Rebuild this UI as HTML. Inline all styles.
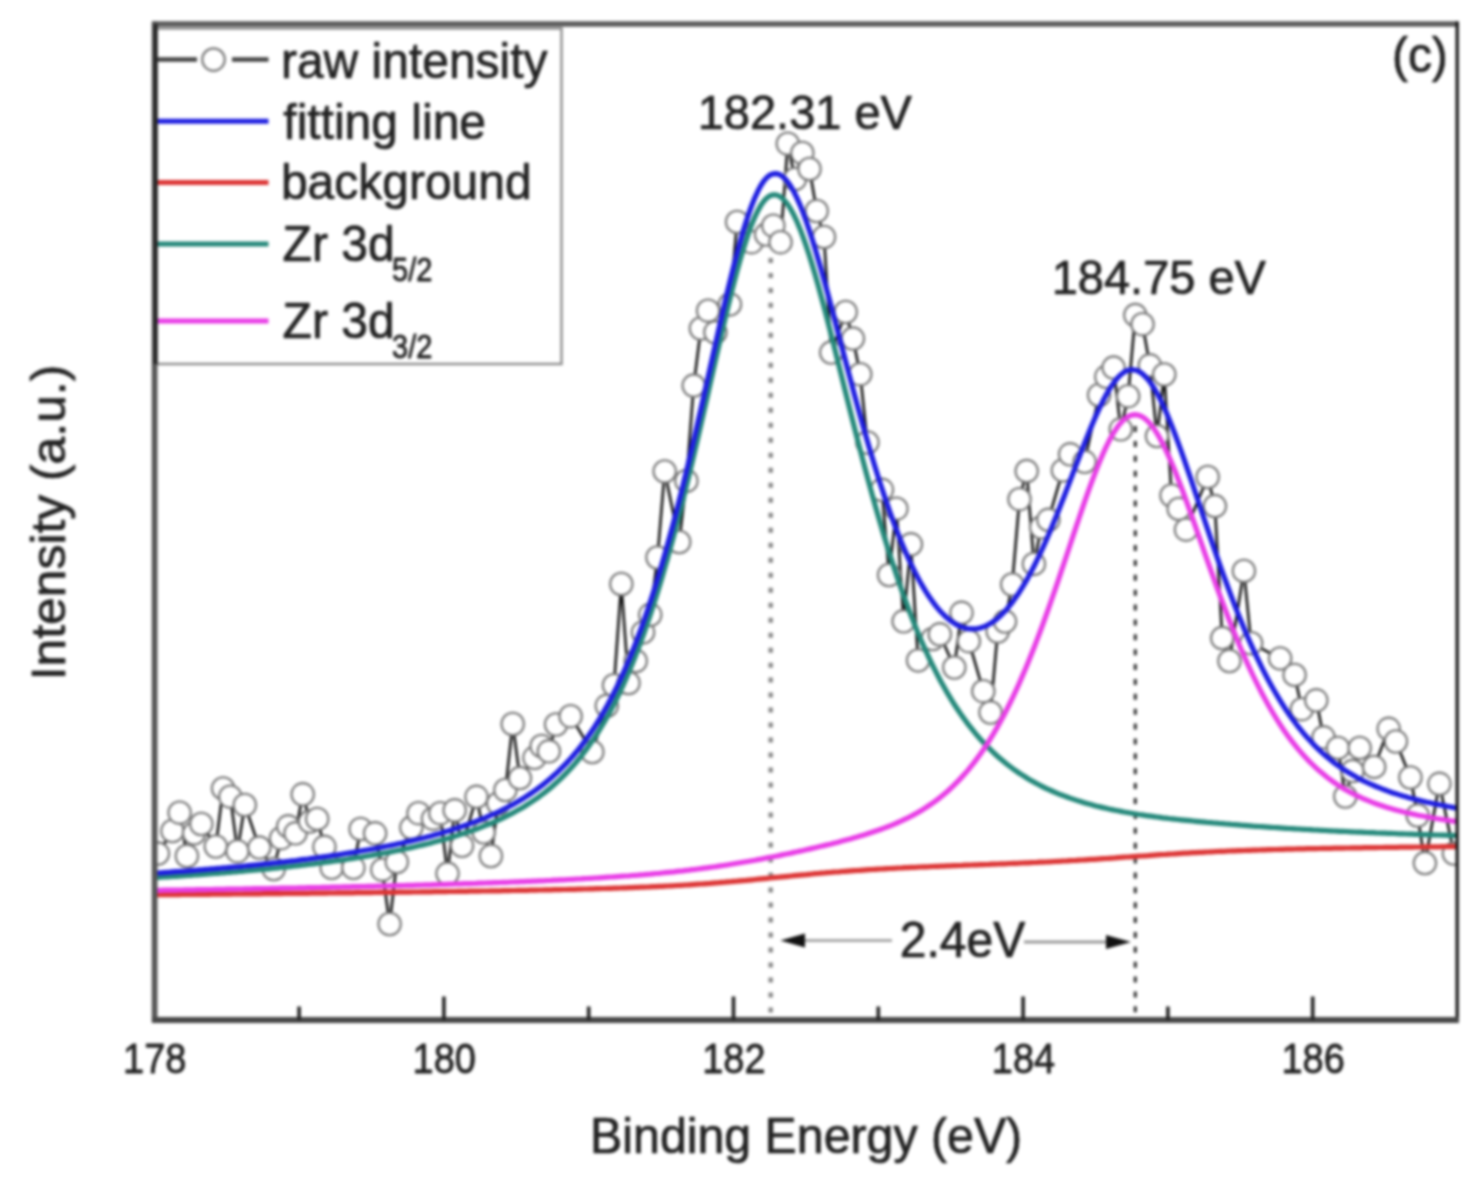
<!DOCTYPE html>
<html><head><meta charset="utf-8"><style>
html,body{margin:0;padding:0;background:#fff;}
svg{display:block;font-family:"Liberation Sans", sans-serif;}
text{stroke:#222;stroke-width:0.7px;stroke-linejoin:round;}
#w{filter:blur(1.5px);width:1477px;height:1182px;}
</style></head><body><div id="w">
<svg width="1477" height="1182" viewBox="0 0 1477 1182">
<rect x="0" y="0" width="1477" height="1182" fill="#fff"/>
<defs><clipPath id="pc"><rect x="155" y="24" width="1302" height="995"/></clipPath></defs>
<line x1="770.7" y1="257.9" x2="770.7" y2="1018" stroke="#8a8a8a" stroke-width="4.5" stroke-dasharray="5 9.99"/>
<line x1="1135.3" y1="426" x2="1135.3" y2="1018" stroke="#383838" stroke-width="3.2" stroke-dasharray="6 8.88"/>
<g clip-path="url(#pc)">
<polyline fill="none" stroke="#111" stroke-width="2.6" stroke-linejoin="round" points="157.9,853.6 172.4,831.0 179.6,812.7 186.9,856.0 194.1,833.4 201.3,824.0 215.8,846.5 223.1,788.4 230.3,796.7 237.5,851.2 244.8,805.0 259.3,847.6 273.7,869.0 281.0,838.2 288.2,826.3 295.5,833.3 302.7,794.3 309.9,821.6 317.2,818.9 324.4,846.8 331.7,867.8 353.4,867.8 360.6,829.0 375.1,833.3 382.3,869.7 389.6,924.0 396.8,862.0 411.3,827.6 418.5,813.2 433.0,818.7 440.3,813.2 447.5,873.6 454.7,810.3 462.0,845.8 476.5,796.8 483.7,832.3 490.9,856.0 498.2,803.5 505.4,790.0 512.7,724.0 519.9,778.1 534.4,757.8 541.6,746.0 548.9,751.3 556.1,724.5 570.6,716.2 592.3,752.0 606.8,705.8 614.0,685.2 621.3,584.0 628.5,683.0 635.7,661.0 643.0,632.4 650.2,614.8 657.5,557.5 664.7,471.4 679.2,542.0 686.4,480.9 693.7,385.6 700.9,328.5 708.1,310.7 715.4,332.3 729.9,304.4 737.1,221.9 751.6,242.2 766.1,234.6 773.3,225.7 780.5,242.2 787.8,143.7 795.0,179.0 802.3,153.0 809.5,169.0 816.7,211.0 824.0,237.0 831.2,352.6 845.7,312.0 852.9,338.6 860.2,374.2 867.4,442.5 881.9,489.8 889.1,575.0 896.4,508.7 903.6,621.3 910.9,544.3 918.1,660.4 932.6,639.0 939.8,634.3 954.3,667.5 961.5,612.8 968.8,641.2 983.3,691.2 990.5,712.5 997.7,631.5 1005.0,621.6 1012.2,584.5 1019.5,499.2 1026.7,471.1 1033.9,563.9 1041.2,527.3 1048.4,519.8 1062.9,470.4 1070.1,454.3 1084.6,461.8 1099.1,395.0 1106.3,376.8 1113.6,367.6 1120.8,429.3 1128.1,396.2 1135.3,315.1 1142.5,324.2 1149.8,365.3 1157.0,436.1 1164.3,374.5 1171.5,495.5 1178.7,508.9 1186.0,529.7 1207.7,477.0 1214.9,506.1 1222.2,638.1 1229.4,661.0 1243.9,570.9 1251.1,643.2 1280.1,658.4 1294.6,674.9 1301.8,709.2 1316.3,700.3 1323.5,737.3 1338.0,747.9 1345.3,796.5 1352.5,771.1 1359.7,747.9 1374.2,766.9 1388.7,728.8 1395.9,741.5 1410.4,777.5 1417.7,815.5 1424.9,863.1 1439.4,783.8 1453.9,853.6"/>
<circle cx="157.9" cy="853.6" r="11.2" fill="#fff" stroke="#747474" stroke-width="2.1"/>
<circle cx="172.4" cy="831.0" r="11.2" fill="#fff" stroke="#747474" stroke-width="2.1"/>
<circle cx="179.6" cy="812.7" r="11.2" fill="#fff" stroke="#747474" stroke-width="2.1"/>
<circle cx="186.9" cy="856.0" r="11.2" fill="#fff" stroke="#747474" stroke-width="2.1"/>
<circle cx="194.1" cy="833.4" r="11.2" fill="#fff" stroke="#747474" stroke-width="2.1"/>
<circle cx="201.3" cy="824.0" r="11.2" fill="#fff" stroke="#747474" stroke-width="2.1"/>
<circle cx="215.8" cy="846.5" r="11.2" fill="#fff" stroke="#747474" stroke-width="2.1"/>
<circle cx="223.1" cy="788.4" r="11.2" fill="#fff" stroke="#747474" stroke-width="2.1"/>
<circle cx="230.3" cy="796.7" r="11.2" fill="#fff" stroke="#747474" stroke-width="2.1"/>
<circle cx="237.5" cy="851.2" r="11.2" fill="#fff" stroke="#747474" stroke-width="2.1"/>
<circle cx="244.8" cy="805.0" r="11.2" fill="#fff" stroke="#747474" stroke-width="2.1"/>
<circle cx="259.3" cy="847.6" r="11.2" fill="#fff" stroke="#747474" stroke-width="2.1"/>
<circle cx="273.7" cy="869.0" r="11.2" fill="#fff" stroke="#747474" stroke-width="2.1"/>
<circle cx="281.0" cy="838.2" r="11.2" fill="#fff" stroke="#747474" stroke-width="2.1"/>
<circle cx="288.2" cy="826.3" r="11.2" fill="#fff" stroke="#747474" stroke-width="2.1"/>
<circle cx="295.5" cy="833.3" r="11.2" fill="#fff" stroke="#747474" stroke-width="2.1"/>
<circle cx="302.7" cy="794.3" r="11.2" fill="#fff" stroke="#747474" stroke-width="2.1"/>
<circle cx="309.9" cy="821.6" r="11.2" fill="#fff" stroke="#747474" stroke-width="2.1"/>
<circle cx="317.2" cy="818.9" r="11.2" fill="#fff" stroke="#747474" stroke-width="2.1"/>
<circle cx="324.4" cy="846.8" r="11.2" fill="#fff" stroke="#747474" stroke-width="2.1"/>
<circle cx="331.7" cy="867.8" r="11.2" fill="#fff" stroke="#747474" stroke-width="2.1"/>
<circle cx="353.4" cy="867.8" r="11.2" fill="#fff" stroke="#747474" stroke-width="2.1"/>
<circle cx="360.6" cy="829.0" r="11.2" fill="#fff" stroke="#747474" stroke-width="2.1"/>
<circle cx="375.1" cy="833.3" r="11.2" fill="#fff" stroke="#747474" stroke-width="2.1"/>
<circle cx="382.3" cy="869.7" r="11.2" fill="#fff" stroke="#747474" stroke-width="2.1"/>
<circle cx="389.6" cy="924.0" r="11.2" fill="#fff" stroke="#747474" stroke-width="2.1"/>
<circle cx="396.8" cy="862.0" r="11.2" fill="#fff" stroke="#747474" stroke-width="2.1"/>
<circle cx="411.3" cy="827.6" r="11.2" fill="#fff" stroke="#747474" stroke-width="2.1"/>
<circle cx="418.5" cy="813.2" r="11.2" fill="#fff" stroke="#747474" stroke-width="2.1"/>
<circle cx="433.0" cy="818.7" r="11.2" fill="#fff" stroke="#747474" stroke-width="2.1"/>
<circle cx="440.3" cy="813.2" r="11.2" fill="#fff" stroke="#747474" stroke-width="2.1"/>
<circle cx="447.5" cy="873.6" r="11.2" fill="#fff" stroke="#747474" stroke-width="2.1"/>
<circle cx="454.7" cy="810.3" r="11.2" fill="#fff" stroke="#747474" stroke-width="2.1"/>
<circle cx="462.0" cy="845.8" r="11.2" fill="#fff" stroke="#747474" stroke-width="2.1"/>
<circle cx="476.5" cy="796.8" r="11.2" fill="#fff" stroke="#747474" stroke-width="2.1"/>
<circle cx="483.7" cy="832.3" r="11.2" fill="#fff" stroke="#747474" stroke-width="2.1"/>
<circle cx="490.9" cy="856.0" r="11.2" fill="#fff" stroke="#747474" stroke-width="2.1"/>
<circle cx="498.2" cy="803.5" r="11.2" fill="#fff" stroke="#747474" stroke-width="2.1"/>
<circle cx="505.4" cy="790.0" r="11.2" fill="#fff" stroke="#747474" stroke-width="2.1"/>
<circle cx="512.7" cy="724.0" r="11.2" fill="#fff" stroke="#747474" stroke-width="2.1"/>
<circle cx="519.9" cy="778.1" r="11.2" fill="#fff" stroke="#747474" stroke-width="2.1"/>
<circle cx="534.4" cy="757.8" r="11.2" fill="#fff" stroke="#747474" stroke-width="2.1"/>
<circle cx="541.6" cy="746.0" r="11.2" fill="#fff" stroke="#747474" stroke-width="2.1"/>
<circle cx="548.9" cy="751.3" r="11.2" fill="#fff" stroke="#747474" stroke-width="2.1"/>
<circle cx="556.1" cy="724.5" r="11.2" fill="#fff" stroke="#747474" stroke-width="2.1"/>
<circle cx="570.6" cy="716.2" r="11.2" fill="#fff" stroke="#747474" stroke-width="2.1"/>
<circle cx="592.3" cy="752.0" r="11.2" fill="#fff" stroke="#747474" stroke-width="2.1"/>
<circle cx="606.8" cy="705.8" r="11.2" fill="#fff" stroke="#747474" stroke-width="2.1"/>
<circle cx="614.0" cy="685.2" r="11.2" fill="#fff" stroke="#747474" stroke-width="2.1"/>
<circle cx="621.3" cy="584.0" r="11.2" fill="#fff" stroke="#747474" stroke-width="2.1"/>
<circle cx="628.5" cy="683.0" r="11.2" fill="#fff" stroke="#747474" stroke-width="2.1"/>
<circle cx="635.7" cy="661.0" r="11.2" fill="#fff" stroke="#747474" stroke-width="2.1"/>
<circle cx="643.0" cy="632.4" r="11.2" fill="#fff" stroke="#747474" stroke-width="2.1"/>
<circle cx="650.2" cy="614.8" r="11.2" fill="#fff" stroke="#747474" stroke-width="2.1"/>
<circle cx="657.5" cy="557.5" r="11.2" fill="#fff" stroke="#747474" stroke-width="2.1"/>
<circle cx="664.7" cy="471.4" r="11.2" fill="#fff" stroke="#747474" stroke-width="2.1"/>
<circle cx="679.2" cy="542.0" r="11.2" fill="#fff" stroke="#747474" stroke-width="2.1"/>
<circle cx="686.4" cy="480.9" r="11.2" fill="#fff" stroke="#747474" stroke-width="2.1"/>
<circle cx="693.7" cy="385.6" r="11.2" fill="#fff" stroke="#747474" stroke-width="2.1"/>
<circle cx="700.9" cy="328.5" r="11.2" fill="#fff" stroke="#747474" stroke-width="2.1"/>
<circle cx="708.1" cy="310.7" r="11.2" fill="#fff" stroke="#747474" stroke-width="2.1"/>
<circle cx="715.4" cy="332.3" r="11.2" fill="#fff" stroke="#747474" stroke-width="2.1"/>
<circle cx="729.9" cy="304.4" r="11.2" fill="#fff" stroke="#747474" stroke-width="2.1"/>
<circle cx="737.1" cy="221.9" r="11.2" fill="#fff" stroke="#747474" stroke-width="2.1"/>
<circle cx="751.6" cy="242.2" r="11.2" fill="#fff" stroke="#747474" stroke-width="2.1"/>
<circle cx="766.1" cy="234.6" r="11.2" fill="#fff" stroke="#747474" stroke-width="2.1"/>
<circle cx="773.3" cy="225.7" r="11.2" fill="#fff" stroke="#747474" stroke-width="2.1"/>
<circle cx="780.5" cy="242.2" r="11.2" fill="#fff" stroke="#747474" stroke-width="2.1"/>
<circle cx="787.8" cy="143.7" r="11.2" fill="#fff" stroke="#747474" stroke-width="2.1"/>
<circle cx="795.0" cy="179.0" r="11.2" fill="#fff" stroke="#747474" stroke-width="2.1"/>
<circle cx="802.3" cy="153.0" r="11.2" fill="#fff" stroke="#747474" stroke-width="2.1"/>
<circle cx="809.5" cy="169.0" r="11.2" fill="#fff" stroke="#747474" stroke-width="2.1"/>
<circle cx="816.7" cy="211.0" r="11.2" fill="#fff" stroke="#747474" stroke-width="2.1"/>
<circle cx="824.0" cy="237.0" r="11.2" fill="#fff" stroke="#747474" stroke-width="2.1"/>
<circle cx="831.2" cy="352.6" r="11.2" fill="#fff" stroke="#747474" stroke-width="2.1"/>
<circle cx="845.7" cy="312.0" r="11.2" fill="#fff" stroke="#747474" stroke-width="2.1"/>
<circle cx="852.9" cy="338.6" r="11.2" fill="#fff" stroke="#747474" stroke-width="2.1"/>
<circle cx="860.2" cy="374.2" r="11.2" fill="#fff" stroke="#747474" stroke-width="2.1"/>
<circle cx="867.4" cy="442.5" r="11.2" fill="#fff" stroke="#747474" stroke-width="2.1"/>
<circle cx="881.9" cy="489.8" r="11.2" fill="#fff" stroke="#747474" stroke-width="2.1"/>
<circle cx="889.1" cy="575.0" r="11.2" fill="#fff" stroke="#747474" stroke-width="2.1"/>
<circle cx="896.4" cy="508.7" r="11.2" fill="#fff" stroke="#747474" stroke-width="2.1"/>
<circle cx="903.6" cy="621.3" r="11.2" fill="#fff" stroke="#747474" stroke-width="2.1"/>
<circle cx="910.9" cy="544.3" r="11.2" fill="#fff" stroke="#747474" stroke-width="2.1"/>
<circle cx="918.1" cy="660.4" r="11.2" fill="#fff" stroke="#747474" stroke-width="2.1"/>
<circle cx="932.6" cy="639.0" r="11.2" fill="#fff" stroke="#747474" stroke-width="2.1"/>
<circle cx="939.8" cy="634.3" r="11.2" fill="#fff" stroke="#747474" stroke-width="2.1"/>
<circle cx="954.3" cy="667.5" r="11.2" fill="#fff" stroke="#747474" stroke-width="2.1"/>
<circle cx="961.5" cy="612.8" r="11.2" fill="#fff" stroke="#747474" stroke-width="2.1"/>
<circle cx="968.8" cy="641.2" r="11.2" fill="#fff" stroke="#747474" stroke-width="2.1"/>
<circle cx="983.3" cy="691.2" r="11.2" fill="#fff" stroke="#747474" stroke-width="2.1"/>
<circle cx="990.5" cy="712.5" r="11.2" fill="#fff" stroke="#747474" stroke-width="2.1"/>
<circle cx="997.7" cy="631.5" r="11.2" fill="#fff" stroke="#747474" stroke-width="2.1"/>
<circle cx="1005.0" cy="621.6" r="11.2" fill="#fff" stroke="#747474" stroke-width="2.1"/>
<circle cx="1012.2" cy="584.5" r="11.2" fill="#fff" stroke="#747474" stroke-width="2.1"/>
<circle cx="1019.5" cy="499.2" r="11.2" fill="#fff" stroke="#747474" stroke-width="2.1"/>
<circle cx="1026.7" cy="471.1" r="11.2" fill="#fff" stroke="#747474" stroke-width="2.1"/>
<circle cx="1033.9" cy="563.9" r="11.2" fill="#fff" stroke="#747474" stroke-width="2.1"/>
<circle cx="1041.2" cy="527.3" r="11.2" fill="#fff" stroke="#747474" stroke-width="2.1"/>
<circle cx="1048.4" cy="519.8" r="11.2" fill="#fff" stroke="#747474" stroke-width="2.1"/>
<circle cx="1062.9" cy="470.4" r="11.2" fill="#fff" stroke="#747474" stroke-width="2.1"/>
<circle cx="1070.1" cy="454.3" r="11.2" fill="#fff" stroke="#747474" stroke-width="2.1"/>
<circle cx="1084.6" cy="461.8" r="11.2" fill="#fff" stroke="#747474" stroke-width="2.1"/>
<circle cx="1099.1" cy="395.0" r="11.2" fill="#fff" stroke="#747474" stroke-width="2.1"/>
<circle cx="1106.3" cy="376.8" r="11.2" fill="#fff" stroke="#747474" stroke-width="2.1"/>
<circle cx="1113.6" cy="367.6" r="11.2" fill="#fff" stroke="#747474" stroke-width="2.1"/>
<circle cx="1120.8" cy="429.3" r="11.2" fill="#fff" stroke="#747474" stroke-width="2.1"/>
<circle cx="1128.1" cy="396.2" r="11.2" fill="#fff" stroke="#747474" stroke-width="2.1"/>
<circle cx="1135.3" cy="315.1" r="11.2" fill="#fff" stroke="#747474" stroke-width="2.1"/>
<circle cx="1142.5" cy="324.2" r="11.2" fill="#fff" stroke="#747474" stroke-width="2.1"/>
<circle cx="1149.8" cy="365.3" r="11.2" fill="#fff" stroke="#747474" stroke-width="2.1"/>
<circle cx="1157.0" cy="436.1" r="11.2" fill="#fff" stroke="#747474" stroke-width="2.1"/>
<circle cx="1164.3" cy="374.5" r="11.2" fill="#fff" stroke="#747474" stroke-width="2.1"/>
<circle cx="1171.5" cy="495.5" r="11.2" fill="#fff" stroke="#747474" stroke-width="2.1"/>
<circle cx="1178.7" cy="508.9" r="11.2" fill="#fff" stroke="#747474" stroke-width="2.1"/>
<circle cx="1186.0" cy="529.7" r="11.2" fill="#fff" stroke="#747474" stroke-width="2.1"/>
<circle cx="1207.7" cy="477.0" r="11.2" fill="#fff" stroke="#747474" stroke-width="2.1"/>
<circle cx="1214.9" cy="506.1" r="11.2" fill="#fff" stroke="#747474" stroke-width="2.1"/>
<circle cx="1222.2" cy="638.1" r="11.2" fill="#fff" stroke="#747474" stroke-width="2.1"/>
<circle cx="1229.4" cy="661.0" r="11.2" fill="#fff" stroke="#747474" stroke-width="2.1"/>
<circle cx="1243.9" cy="570.9" r="11.2" fill="#fff" stroke="#747474" stroke-width="2.1"/>
<circle cx="1251.1" cy="643.2" r="11.2" fill="#fff" stroke="#747474" stroke-width="2.1"/>
<circle cx="1280.1" cy="658.4" r="11.2" fill="#fff" stroke="#747474" stroke-width="2.1"/>
<circle cx="1294.6" cy="674.9" r="11.2" fill="#fff" stroke="#747474" stroke-width="2.1"/>
<circle cx="1301.8" cy="709.2" r="11.2" fill="#fff" stroke="#747474" stroke-width="2.1"/>
<circle cx="1316.3" cy="700.3" r="11.2" fill="#fff" stroke="#747474" stroke-width="2.1"/>
<circle cx="1323.5" cy="737.3" r="11.2" fill="#fff" stroke="#747474" stroke-width="2.1"/>
<circle cx="1338.0" cy="747.9" r="11.2" fill="#fff" stroke="#747474" stroke-width="2.1"/>
<circle cx="1345.3" cy="796.5" r="11.2" fill="#fff" stroke="#747474" stroke-width="2.1"/>
<circle cx="1352.5" cy="771.1" r="11.2" fill="#fff" stroke="#747474" stroke-width="2.1"/>
<circle cx="1359.7" cy="747.9" r="11.2" fill="#fff" stroke="#747474" stroke-width="2.1"/>
<circle cx="1374.2" cy="766.9" r="11.2" fill="#fff" stroke="#747474" stroke-width="2.1"/>
<circle cx="1388.7" cy="728.8" r="11.2" fill="#fff" stroke="#747474" stroke-width="2.1"/>
<circle cx="1395.9" cy="741.5" r="11.2" fill="#fff" stroke="#747474" stroke-width="2.1"/>
<circle cx="1410.4" cy="777.5" r="11.2" fill="#fff" stroke="#747474" stroke-width="2.1"/>
<circle cx="1417.7" cy="815.5" r="11.2" fill="#fff" stroke="#747474" stroke-width="2.1"/>
<circle cx="1424.9" cy="863.1" r="11.2" fill="#fff" stroke="#747474" stroke-width="2.1"/>
<circle cx="1439.4" cy="783.8" r="11.2" fill="#fff" stroke="#747474" stroke-width="2.1"/>
<circle cx="1453.9" cy="853.6" r="11.2" fill="#fff" stroke="#747474" stroke-width="2.1"/>
<path d="M155.0 894.8 L158.0 894.7 L161.0 894.7 L164.0 894.7 L167.0 894.7 L170.0 894.6 L173.0 894.6 L176.0 894.6 L179.0 894.6 L182.0 894.5 L185.0 894.5 L188.0 894.5 L191.0 894.4 L194.0 894.4 L197.0 894.4 L200.0 894.4 L203.0 894.3 L206.0 894.3 L209.0 894.3 L212.0 894.2 L215.0 894.2 L218.0 894.2 L221.0 894.2 L224.0 894.1 L227.0 894.1 L230.0 894.1 L233.0 894.0 L236.0 894.0 L239.0 894.0 L242.0 894.0 L245.0 893.9 L248.0 893.9 L251.0 893.9 L254.0 893.8 L257.0 893.8 L260.0 893.8 L263.0 893.7 L266.0 893.7 L269.0 893.7 L272.0 893.6 L275.0 893.6 L278.0 893.6 L281.0 893.6 L284.0 893.5 L287.0 893.5 L290.0 893.5 L293.0 893.4 L296.0 893.4 L299.0 893.4 L302.0 893.3 L305.0 893.3 L308.0 893.3 L311.0 893.2 L314.0 893.2 L317.0 893.2 L320.0 893.1 L323.0 893.1 L326.0 893.1 L329.0 893.0 L332.0 893.0 L335.0 893.0 L338.0 892.9 L341.0 892.9 L344.0 892.9 L347.0 892.8 L350.0 892.8 L353.0 892.8 L356.0 892.7 L359.0 892.7 L362.0 892.7 L365.0 892.6 L368.0 892.6 L371.0 892.6 L374.0 892.5 L377.0 892.5 L380.0 892.4 L383.0 892.4 L386.0 892.4 L389.0 892.3 L392.0 892.3 L395.0 892.3 L398.0 892.2 L401.0 892.2 L404.0 892.1 L407.0 892.1 L410.0 892.1 L413.0 892.0 L416.0 892.0 L419.0 892.0 L422.0 891.9 L425.0 891.9 L428.0 891.8 L431.0 891.8 L434.0 891.7 L437.0 891.7 L440.0 891.7 L443.0 891.6 L446.0 891.6 L449.0 891.5 L452.0 891.5 L455.0 891.5 L458.0 891.4 L461.0 891.4 L464.0 891.3 L467.0 891.3 L470.0 891.2 L473.0 891.2 L476.0 891.1 L479.0 891.1 L482.0 891.0 L485.0 891.0 L488.0 891.0 L491.0 890.9 L494.0 890.9 L497.0 890.8 L500.0 890.8 L503.0 890.7 L506.0 890.7 L509.0 890.6 L512.0 890.5 L515.0 890.5 L518.0 890.4 L521.0 890.4 L524.0 890.3 L527.0 890.3 L530.0 890.2 L533.0 890.2 L536.0 890.1 L539.0 890.0 L542.0 890.0 L545.0 889.9 L548.0 889.9 L551.0 889.8 L554.0 889.7 L557.0 889.7 L560.0 889.6 L563.0 889.5 L566.0 889.5 L569.0 889.4 L572.0 889.3 L575.0 889.3 L578.0 889.2 L581.0 889.1 L584.0 889.0 L587.0 889.0 L590.0 888.9 L593.0 888.8 L596.0 888.7 L599.0 888.6 L602.0 888.5 L605.0 888.5 L608.0 888.4 L611.0 888.3 L614.0 888.2 L617.0 888.1 L620.0 888.0 L623.0 887.9 L626.0 887.8 L629.0 887.7 L632.0 887.6 L635.0 887.4 L638.0 887.3 L641.0 887.2 L644.0 887.1 L647.0 887.0 L650.0 886.8 L653.0 886.7 L656.0 886.6 L659.0 886.4 L662.0 886.3 L665.0 886.1 L668.0 886.0 L671.0 885.8 L674.0 885.7 L677.0 885.5 L680.0 885.3 L683.0 885.2 L686.0 885.0 L689.0 884.8 L692.0 884.6 L695.0 884.4 L698.0 884.2 L701.0 884.0 L704.0 883.8 L707.0 883.6 L710.0 883.4 L713.0 883.1 L716.0 882.9 L719.0 882.7 L722.0 882.4 L725.0 882.2 L728.0 881.9 L731.0 881.7 L734.0 881.4 L737.0 881.2 L740.0 880.9 L743.0 880.6 L746.0 880.4 L749.0 880.1 L752.0 879.8 L755.0 879.5 L758.0 879.2 L761.0 878.9 L764.0 878.6 L767.0 878.3 L770.0 878.0 L773.0 877.7 L776.0 877.4 L779.0 877.2 L782.0 876.9 L785.0 876.6 L788.0 876.3 L791.0 876.0 L794.0 875.7 L797.0 875.4 L800.0 875.1 L803.0 874.8 L806.0 874.6 L809.0 874.3 L812.0 874.0 L815.0 873.7 L818.0 873.5 L821.0 873.2 L824.0 873.0 L827.0 872.7 L830.0 872.5 L833.0 872.2 L836.0 872.0 L839.0 871.8 L842.0 871.5 L845.0 871.3 L848.0 871.1 L851.0 870.9 L854.0 870.7 L857.0 870.5 L860.0 870.3 L863.0 870.1 L866.0 869.9 L869.0 869.7 L872.0 869.5 L875.0 869.3 L878.0 869.1 L881.0 869.0 L884.0 868.8 L887.0 868.6 L890.0 868.5 L893.0 868.3 L896.0 868.2 L899.0 868.0 L902.0 867.9 L905.0 867.7 L908.0 867.6 L911.0 867.4 L914.0 867.3 L917.0 867.2 L920.0 867.0 L923.0 866.9 L926.0 866.8 L929.0 866.7 L932.0 866.5 L935.0 866.4 L938.0 866.3 L941.0 866.2 L944.0 866.1 L947.0 865.9 L950.0 865.8 L953.0 865.7 L956.0 865.6 L959.0 865.5 L962.0 865.4 L965.0 865.2 L968.0 865.1 L971.0 865.0 L974.0 864.9 L977.0 864.8 L980.0 864.7 L983.0 864.6 L986.0 864.5 L989.0 864.4 L992.0 864.2 L995.0 864.1 L998.0 864.0 L1001.0 863.9 L1004.0 863.8 L1007.0 863.7 L1010.0 863.5 L1013.0 863.4 L1016.0 863.3 L1019.0 863.2 L1022.0 863.0 L1025.0 862.9 L1028.0 862.8 L1031.0 862.6 L1034.0 862.5 L1037.0 862.4 L1040.0 862.2 L1043.0 862.1 L1046.0 862.0 L1049.0 861.8 L1052.0 861.7 L1055.0 861.5 L1058.0 861.3 L1061.0 861.2 L1064.0 861.0 L1067.0 860.9 L1070.0 860.7 L1073.0 860.5 L1076.0 860.4 L1079.0 860.2 L1082.0 860.0 L1085.0 859.8 L1088.0 859.6 L1091.0 859.4 L1094.0 859.3 L1097.0 859.1 L1100.0 858.9 L1103.0 858.7 L1106.0 858.5 L1109.0 858.3 L1112.0 858.1 L1115.0 857.9 L1118.0 857.6 L1121.0 857.4 L1124.0 857.2 L1127.0 857.0 L1130.0 856.8 L1133.0 856.6 L1136.0 856.4 L1139.0 856.2 L1142.0 856.0 L1145.0 855.8 L1148.0 855.6 L1151.0 855.3 L1154.0 855.1 L1157.0 854.9 L1160.0 854.7 L1163.0 854.5 L1166.0 854.4 L1169.0 854.2 L1172.0 854.0 L1175.0 853.8 L1178.0 853.6 L1181.0 853.4 L1184.0 853.2 L1187.0 853.1 L1190.0 852.9 L1193.0 852.7 L1196.0 852.6 L1199.0 852.4 L1202.0 852.3 L1205.0 852.1 L1208.0 852.0 L1211.0 851.8 L1214.0 851.7 L1217.0 851.5 L1220.0 851.4 L1223.0 851.3 L1226.0 851.2 L1229.0 851.0 L1232.0 850.9 L1235.0 850.8 L1238.0 850.7 L1241.0 850.6 L1244.0 850.5 L1247.0 850.4 L1250.0 850.3 L1253.0 850.2 L1256.0 850.1 L1259.0 850.0 L1262.0 849.9 L1265.0 849.8 L1268.0 849.7 L1271.0 849.6 L1274.0 849.5 L1277.0 849.5 L1280.0 849.4 L1283.0 849.3 L1286.0 849.2 L1289.0 849.1 L1292.0 849.1 L1295.0 849.0 L1298.0 848.9 L1301.0 848.9 L1304.0 848.8 L1307.0 848.7 L1310.0 848.7 L1313.0 848.6 L1316.0 848.6 L1319.0 848.5 L1322.0 848.4 L1325.0 848.4 L1328.0 848.3 L1331.0 848.3 L1334.0 848.2 L1337.0 848.2 L1340.0 848.1 L1343.0 848.1 L1346.0 848.0 L1349.0 848.0 L1352.0 847.9 L1355.0 847.9 L1358.0 847.8 L1361.0 847.8 L1364.0 847.7 L1367.0 847.7 L1370.0 847.7 L1373.0 847.6 L1376.0 847.6 L1379.0 847.5 L1382.0 847.5 L1385.0 847.4 L1388.0 847.4 L1391.0 847.4 L1394.0 847.3 L1397.0 847.3 L1400.0 847.2 L1403.0 847.2 L1406.0 847.2 L1409.0 847.1 L1412.0 847.1 L1415.0 847.0 L1418.0 847.0 L1421.0 847.0 L1424.0 846.9 L1427.0 846.9 L1430.0 846.9 L1433.0 846.8 L1436.0 846.8 L1439.0 846.8 L1442.0 846.7 L1445.0 846.7 L1448.0 846.6 L1451.0 846.6 L1454.0 846.6 L1457.0 846.5" fill="none" stroke="#dc3434" stroke-width="5.2" stroke-linejoin="round"/>
<path d="M155.0 877.6 L158.0 877.4 L161.0 877.2 L164.0 877.0 L167.0 876.8 L170.0 876.7 L173.0 876.5 L176.0 876.3 L179.0 876.1 L182.0 875.9 L185.0 875.7 L188.0 875.5 L191.0 875.3 L194.0 875.0 L197.0 874.8 L200.0 874.6 L203.0 874.4 L206.0 874.2 L209.0 873.9 L212.0 873.7 L215.0 873.5 L218.0 873.3 L221.0 873.0 L224.0 872.8 L227.0 872.5 L230.0 872.3 L233.0 872.0 L236.0 871.8 L239.0 871.5 L242.0 871.3 L245.0 871.0 L248.0 870.7 L251.0 870.5 L254.0 870.2 L257.0 869.9 L260.0 869.6 L263.0 869.4 L266.0 869.1 L269.0 868.8 L272.0 868.5 L275.0 868.2 L278.0 867.9 L281.0 867.5 L284.0 867.2 L287.0 866.9 L290.0 866.6 L293.0 866.2 L296.0 865.9 L299.0 865.6 L302.0 865.2 L305.0 864.9 L308.0 864.5 L311.0 864.1 L314.0 863.8 L317.0 863.4 L320.0 863.0 L323.0 862.6 L326.0 862.2 L329.0 861.8 L332.0 861.4 L335.0 861.0 L338.0 860.6 L341.0 860.2 L344.0 859.7 L347.0 859.3 L350.0 858.8 L353.0 858.4 L356.0 857.9 L359.0 857.4 L362.0 857.0 L365.0 856.5 L368.0 856.0 L371.0 855.5 L374.0 854.9 L377.0 854.4 L380.0 853.9 L383.0 853.3 L386.0 852.8 L389.0 852.2 L392.0 851.6 L395.0 851.0 L398.0 850.4 L401.0 849.8 L404.0 849.2 L407.0 848.5 L410.0 847.9 L413.0 847.2 L416.0 846.5 L419.0 845.8 L422.0 845.1 L425.0 844.4 L428.0 843.7 L431.0 842.9 L434.0 842.1 L437.0 841.3 L440.0 840.5 L443.0 839.7 L446.0 838.9 L449.0 838.0 L452.0 837.1 L455.0 836.2 L458.0 835.3 L461.0 834.3 L464.0 833.3 L467.0 832.3 L470.0 831.3 L473.0 830.3 L476.0 829.2 L479.0 828.1 L482.0 826.9 L485.0 825.7 L488.0 824.5 L491.0 823.3 L494.0 822.0 L497.0 820.7 L500.0 819.3 L503.0 817.9 L506.0 816.4 L509.0 814.9 L512.0 813.4 L515.0 811.8 L518.0 810.1 L521.0 808.4 L524.0 806.7 L527.0 804.8 L530.0 802.9 L533.0 800.9 L536.0 798.9 L539.0 796.8 L542.0 794.5 L545.0 792.3 L548.0 789.9 L551.0 787.4 L554.0 784.8 L557.0 782.1 L560.0 779.3 L563.0 776.4 L566.0 773.4 L569.0 770.3 L572.0 767.0 L575.0 763.6 L578.0 760.0 L581.0 756.3 L584.0 752.5 L587.0 748.4 L590.0 744.3 L593.0 739.9 L596.0 735.4 L599.0 730.6 L602.0 725.7 L605.0 720.6 L608.0 715.3 L611.0 709.7 L614.0 704.0 L617.0 698.0 L620.0 691.8 L623.0 685.3 L626.0 678.6 L629.0 671.7 L632.0 664.5 L635.0 657.0 L638.0 649.3 L641.0 641.3 L644.0 633.0 L647.0 624.4 L650.0 615.6 L653.0 606.5 L656.0 597.1 L659.0 587.4 L662.0 577.4 L665.0 567.1 L668.0 556.6 L671.0 545.8 L674.0 534.7 L677.0 523.3 L680.0 511.7 L683.0 499.8 L686.0 487.7 L689.0 475.3 L692.0 462.8 L695.0 450.1 L698.0 437.2 L701.0 424.1 L704.0 411.0 L707.0 397.8 L710.0 384.5 L713.0 371.2 L716.0 358.0 L719.0 344.9 L722.0 331.9 L725.0 319.1 L728.0 306.6 L731.0 294.4 L734.0 282.6 L737.0 271.2 L740.0 260.4 L743.0 250.1 L746.0 240.6 L749.0 231.7 L752.0 223.7 L755.0 216.6 L758.0 210.4 L761.0 205.1 L764.0 200.9 L767.0 197.8 L770.0 195.7 L773.0 194.8 L776.0 194.9 L779.0 195.9 L782.0 198.0 L785.0 201.0 L788.0 204.9 L791.0 209.7 L794.0 215.3 L797.0 221.7 L800.0 228.9 L803.0 236.8 L806.0 245.4 L809.0 254.5 L812.0 264.1 L815.0 274.3 L818.0 284.8 L821.0 295.7 L824.0 306.9 L827.0 318.4 L830.0 330.1 L833.0 341.9 L836.0 353.9 L839.0 365.9 L842.0 377.9 L845.0 390.0 L848.0 402.0 L851.0 414.0 L854.0 425.9 L857.0 437.6 L860.0 449.2 L863.0 460.7 L866.0 472.0 L869.0 483.2 L872.0 494.1 L875.0 504.8 L878.0 515.3 L881.0 525.6 L884.0 535.7 L887.0 545.5 L890.0 555.1 L893.0 564.4 L896.0 573.5 L899.0 582.4 L902.0 591.0 L905.0 599.4 L908.0 607.5 L911.0 615.4 L914.0 623.1 L917.0 630.5 L920.0 637.7 L923.0 644.6 L926.0 651.3 L929.0 657.8 L932.0 664.1 L935.0 670.2 L938.0 676.0 L941.0 681.7 L944.0 687.1 L947.0 692.4 L950.0 697.4 L953.0 702.3 L956.0 707.0 L959.0 711.5 L962.0 715.9 L965.0 720.0 L968.0 724.1 L971.0 727.9 L974.0 731.7 L977.0 735.3 L980.0 738.7 L983.0 742.0 L986.0 745.2 L989.0 748.2 L992.0 751.2 L995.0 754.0 L998.0 756.7 L1001.0 759.3 L1004.0 761.8 L1007.0 764.2 L1010.0 766.5 L1013.0 768.8 L1016.0 770.9 L1019.0 773.0 L1022.0 774.9 L1025.0 776.8 L1028.0 778.7 L1031.0 780.4 L1034.0 782.1 L1037.0 783.7 L1040.0 785.3 L1043.0 786.8 L1046.0 788.3 L1049.0 789.7 L1052.0 791.0 L1055.0 792.3 L1058.0 793.6 L1061.0 794.8 L1064.0 795.9 L1067.0 797.0 L1070.0 798.1 L1073.0 799.1 L1076.0 800.1 L1079.0 801.1 L1082.0 802.0 L1085.0 802.9 L1088.0 803.8 L1091.0 804.6 L1094.0 805.4 L1097.0 806.2 L1100.0 806.9 L1103.0 807.6 L1106.0 808.3 L1109.0 809.0 L1112.0 809.6 L1115.0 810.2 L1118.0 810.8 L1121.0 811.4 L1124.0 812.0 L1127.0 812.5 L1130.0 813.0 L1133.0 813.5 L1136.0 814.0 L1139.0 814.5 L1142.0 814.9 L1145.0 815.4 L1148.0 815.8 L1151.0 816.2 L1154.0 816.6 L1157.0 817.0 L1160.0 817.4 L1163.0 817.8 L1166.0 818.1 L1169.0 818.5 L1172.0 818.8 L1175.0 819.2 L1178.0 819.5 L1181.0 819.8 L1184.0 820.1 L1187.0 820.4 L1190.0 820.7 L1193.0 821.0 L1196.0 821.3 L1199.0 821.6 L1202.0 821.9 L1205.0 822.2 L1208.0 822.5 L1211.0 822.7 L1214.0 823.0 L1217.0 823.2 L1220.0 823.5 L1223.0 823.7 L1226.0 824.0 L1229.0 824.2 L1232.0 824.5 L1235.0 824.7 L1238.0 824.9 L1241.0 825.2 L1244.0 825.4 L1247.0 825.6 L1250.0 825.8 L1253.0 826.1 L1256.0 826.3 L1259.0 826.5 L1262.0 826.7 L1265.0 826.9 L1268.0 827.1 L1271.0 827.3 L1274.0 827.5 L1277.0 827.7 L1280.0 827.9 L1283.0 828.1 L1286.0 828.3 L1289.0 828.5 L1292.0 828.6 L1295.0 828.8 L1298.0 829.0 L1301.0 829.2 L1304.0 829.3 L1307.0 829.5 L1310.0 829.7 L1313.0 829.9 L1316.0 830.0 L1319.0 830.2 L1322.0 830.3 L1325.0 830.5 L1328.0 830.7 L1331.0 830.8 L1334.0 831.0 L1337.0 831.1 L1340.0 831.3 L1343.0 831.4 L1346.0 831.5 L1349.0 831.7 L1352.0 831.8 L1355.0 832.0 L1358.0 832.1 L1361.0 832.2 L1364.0 832.3 L1367.0 832.5 L1370.0 832.6 L1373.0 832.7 L1376.0 832.9 L1379.0 833.0 L1382.0 833.1 L1385.0 833.2 L1388.0 833.3 L1391.0 833.4 L1394.0 833.5 L1397.0 833.7 L1400.0 833.8 L1403.0 833.9 L1406.0 834.0 L1409.0 834.1 L1412.0 834.2 L1415.0 834.3 L1418.0 834.4 L1421.0 834.5 L1424.0 834.6 L1427.0 834.7 L1430.0 834.8 L1433.0 834.9 L1436.0 835.0 L1439.0 835.0 L1442.0 835.1 L1445.0 835.2 L1448.0 835.3 L1451.0 835.4 L1454.0 835.5 L1457.0 835.5" fill="none" stroke="#24887a" stroke-width="5.2" stroke-linejoin="round"/>
<path d="M155.0 890.4 L158.0 890.3 L161.0 890.3 L164.0 890.2 L167.0 890.2 L170.0 890.1 L173.0 890.1 L176.0 890.1 L179.0 890.0 L182.0 890.0 L185.0 889.9 L188.0 889.9 L191.0 889.8 L194.0 889.8 L197.0 889.7 L200.0 889.7 L203.0 889.6 L206.0 889.6 L209.0 889.5 L212.0 889.5 L215.0 889.4 L218.0 889.4 L221.0 889.3 L224.0 889.3 L227.0 889.2 L230.0 889.2 L233.0 889.1 L236.0 889.1 L239.0 889.0 L242.0 889.0 L245.0 888.9 L248.0 888.9 L251.0 888.8 L254.0 888.7 L257.0 888.7 L260.0 888.6 L263.0 888.6 L266.0 888.5 L269.0 888.5 L272.0 888.4 L275.0 888.4 L278.0 888.3 L281.0 888.2 L284.0 888.2 L287.0 888.1 L290.0 888.1 L293.0 888.0 L296.0 888.0 L299.0 887.9 L302.0 887.8 L305.0 887.8 L308.0 887.7 L311.0 887.7 L314.0 887.6 L317.0 887.5 L320.0 887.5 L323.0 887.4 L326.0 887.3 L329.0 887.3 L332.0 887.2 L335.0 887.1 L338.0 887.1 L341.0 887.0 L344.0 886.9 L347.0 886.9 L350.0 886.8 L353.0 886.7 L356.0 886.7 L359.0 886.6 L362.0 886.5 L365.0 886.5 L368.0 886.4 L371.0 886.3 L374.0 886.3 L377.0 886.2 L380.0 886.1 L383.0 886.0 L386.0 886.0 L389.0 885.9 L392.0 885.8 L395.0 885.7 L398.0 885.7 L401.0 885.6 L404.0 885.5 L407.0 885.4 L410.0 885.3 L413.0 885.3 L416.0 885.2 L419.0 885.1 L422.0 885.0 L425.0 884.9 L428.0 884.8 L431.0 884.8 L434.0 884.7 L437.0 884.6 L440.0 884.5 L443.0 884.4 L446.0 884.3 L449.0 884.2 L452.0 884.1 L455.0 884.0 L458.0 883.9 L461.0 883.8 L464.0 883.7 L467.0 883.6 L470.0 883.6 L473.0 883.5 L476.0 883.4 L479.0 883.2 L482.0 883.1 L485.0 883.0 L488.0 882.9 L491.0 882.8 L494.0 882.7 L497.0 882.6 L500.0 882.5 L503.0 882.4 L506.0 882.3 L509.0 882.2 L512.0 882.0 L515.0 881.9 L518.0 881.8 L521.0 881.7 L524.0 881.6 L527.0 881.4 L530.0 881.3 L533.0 881.2 L536.0 881.1 L539.0 880.9 L542.0 880.8 L545.0 880.7 L548.0 880.5 L551.0 880.4 L554.0 880.2 L557.0 880.1 L560.0 879.9 L563.0 879.8 L566.0 879.7 L569.0 879.5 L572.0 879.3 L575.0 879.2 L578.0 879.0 L581.0 878.9 L584.0 878.7 L587.0 878.5 L590.0 878.3 L593.0 878.2 L596.0 878.0 L599.0 877.8 L602.0 877.6 L605.0 877.4 L608.0 877.2 L611.0 877.0 L614.0 876.8 L617.0 876.6 L620.0 876.4 L623.0 876.2 L626.0 876.0 L629.0 875.8 L632.0 875.5 L635.0 875.3 L638.0 875.1 L641.0 874.8 L644.0 874.6 L647.0 874.3 L650.0 874.1 L653.0 873.8 L656.0 873.5 L659.0 873.3 L662.0 873.0 L665.0 872.7 L668.0 872.4 L671.0 872.1 L674.0 871.8 L677.0 871.4 L680.0 871.1 L683.0 870.8 L686.0 870.4 L689.0 870.1 L692.0 869.7 L695.0 869.4 L698.0 869.0 L701.0 868.6 L704.0 868.2 L707.0 867.8 L710.0 867.4 L713.0 867.0 L716.0 866.6 L719.0 866.1 L722.0 865.7 L725.0 865.2 L728.0 864.8 L731.0 864.3 L734.0 863.8 L737.0 863.3 L740.0 862.8 L743.0 862.3 L746.0 861.8 L749.0 861.3 L752.0 860.7 L755.0 860.2 L758.0 859.6 L761.0 859.1 L764.0 858.5 L767.0 857.9 L770.0 857.3 L773.0 856.8 L776.0 856.2 L779.0 855.6 L782.0 854.9 L785.0 854.3 L788.0 853.7 L791.0 853.1 L794.0 852.4 L797.0 851.8 L800.0 851.1 L803.0 850.5 L806.0 849.8 L809.0 849.1 L812.0 848.4 L815.0 847.7 L818.0 847.0 L821.0 846.3 L824.0 845.6 L827.0 844.9 L830.0 844.2 L833.0 843.4 L836.0 842.7 L839.0 841.9 L842.0 841.1 L845.0 840.3 L848.0 839.5 L851.0 838.7 L854.0 837.8 L857.0 837.0 L860.0 836.1 L863.0 835.2 L866.0 834.3 L869.0 833.3 L872.0 832.3 L875.0 831.3 L878.0 830.3 L881.0 829.2 L884.0 828.1 L887.0 827.0 L890.0 825.8 L893.0 824.6 L896.0 823.3 L899.0 822.0 L902.0 820.6 L905.0 819.2 L908.0 817.8 L911.0 816.2 L914.0 814.6 L917.0 813.0 L920.0 811.2 L923.0 809.4 L926.0 807.5 L929.0 805.5 L932.0 803.5 L935.0 801.3 L938.0 799.1 L941.0 796.7 L944.0 794.2 L947.0 791.7 L950.0 789.0 L953.0 786.2 L956.0 783.2 L959.0 780.1 L962.0 776.9 L965.0 773.6 L968.0 770.1 L971.0 766.4 L974.0 762.6 L977.0 758.6 L980.0 754.5 L983.0 750.2 L986.0 745.7 L989.0 741.0 L992.0 736.2 L995.0 731.1 L998.0 725.9 L1001.0 720.5 L1004.0 714.9 L1007.0 709.0 L1010.0 703.0 L1013.0 696.8 L1016.0 690.4 L1019.0 683.8 L1022.0 676.9 L1025.0 669.9 L1028.0 662.7 L1031.0 655.3 L1034.0 647.7 L1037.0 639.9 L1040.0 632.0 L1043.0 623.8 L1046.0 615.5 L1049.0 607.1 L1052.0 598.5 L1055.0 589.9 L1058.0 581.1 L1061.0 572.2 L1064.0 563.2 L1067.0 554.2 L1070.0 545.2 L1073.0 536.1 L1076.0 527.2 L1079.0 518.2 L1082.0 509.4 L1085.0 500.7 L1088.0 492.2 L1091.0 483.9 L1094.0 475.8 L1097.0 468.1 L1100.0 460.7 L1103.0 453.7 L1106.0 447.1 L1109.0 441.1 L1112.0 435.5 L1115.0 430.6 L1118.0 426.2 L1121.0 422.6 L1124.0 419.5 L1127.0 417.2 L1130.0 415.7 L1133.0 414.8 L1136.0 414.7 L1139.0 415.3 L1142.0 416.7 L1145.0 418.7 L1148.0 421.4 L1151.0 424.8 L1154.0 428.8 L1157.0 433.4 L1160.0 438.5 L1163.0 444.2 L1166.0 450.3 L1169.0 456.9 L1172.0 463.8 L1175.0 471.1 L1178.0 478.7 L1181.0 486.5 L1184.0 494.5 L1187.0 502.8 L1190.0 511.1 L1193.0 519.6 L1196.0 528.1 L1199.0 536.7 L1202.0 545.2 L1205.0 553.8 L1208.0 562.3 L1211.0 570.8 L1214.0 579.2 L1217.0 587.5 L1220.0 595.7 L1223.0 603.7 L1226.0 611.6 L1229.0 619.4 L1232.0 627.0 L1235.0 634.5 L1238.0 641.8 L1241.0 648.9 L1244.0 655.8 L1247.0 662.6 L1250.0 669.1 L1253.0 675.5 L1256.0 681.7 L1259.0 687.7 L1262.0 693.5 L1265.0 699.1 L1268.0 704.5 L1271.0 709.7 L1274.0 714.8 L1277.0 719.7 L1280.0 724.3 L1283.0 728.9 L1286.0 733.2 L1289.0 737.4 L1292.0 741.4 L1295.0 745.2 L1298.0 748.9 L1301.0 752.4 L1304.0 755.8 L1307.0 759.0 L1310.0 762.1 L1313.0 765.0 L1316.0 767.9 L1319.0 770.6 L1322.0 773.1 L1325.0 775.6 L1328.0 778.0 L1331.0 780.2 L1334.0 782.3 L1337.0 784.4 L1340.0 786.3 L1343.0 788.2 L1346.0 789.9 L1349.0 791.6 L1352.0 793.2 L1355.0 794.8 L1358.0 796.2 L1361.0 797.6 L1364.0 799.0 L1367.0 800.2 L1370.0 801.4 L1373.0 802.6 L1376.0 803.7 L1379.0 804.8 L1382.0 805.8 L1385.0 806.8 L1388.0 807.7 L1391.0 808.6 L1394.0 809.4 L1397.0 810.3 L1400.0 811.0 L1403.0 811.8 L1406.0 812.5 L1409.0 813.2 L1412.0 813.9 L1415.0 814.5 L1418.0 815.2 L1421.0 815.8 L1424.0 816.3 L1427.0 816.9 L1430.0 817.4 L1433.0 818.0 L1436.0 818.5 L1439.0 819.0 L1442.0 819.4 L1445.0 819.9 L1448.0 820.3 L1451.0 820.8 L1454.0 821.2 L1457.0 821.6" fill="none" stroke="#e83ce6" stroke-width="5.2" stroke-linejoin="round"/>
<path d="M155.0 873.2 L158.0 873.0 L161.0 872.8 L164.0 872.6 L167.0 872.4 L170.0 872.2 L173.0 871.9 L176.0 871.7 L179.0 871.5 L182.0 871.3 L185.0 871.1 L188.0 870.8 L191.0 870.6 L194.0 870.4 L197.0 870.2 L200.0 869.9 L203.0 869.7 L206.0 869.4 L209.0 869.2 L212.0 868.9 L215.0 868.7 L218.0 868.4 L221.0 868.2 L224.0 867.9 L227.0 867.7 L230.0 867.4 L233.0 867.1 L236.0 866.8 L239.0 866.6 L242.0 866.3 L245.0 866.0 L248.0 865.7 L251.0 865.4 L254.0 865.1 L257.0 864.8 L260.0 864.5 L263.0 864.2 L266.0 863.9 L269.0 863.6 L272.0 863.2 L275.0 862.9 L278.0 862.6 L281.0 862.2 L284.0 861.9 L287.0 861.5 L290.0 861.2 L293.0 860.8 L296.0 860.5 L299.0 860.1 L302.0 859.7 L305.0 859.3 L308.0 859.0 L311.0 858.6 L314.0 858.2 L317.0 857.8 L320.0 857.3 L323.0 856.9 L326.0 856.5 L329.0 856.1 L332.0 855.6 L335.0 855.2 L338.0 854.7 L341.0 854.3 L344.0 853.8 L347.0 853.3 L350.0 852.8 L353.0 852.4 L356.0 851.9 L359.0 851.3 L362.0 850.8 L365.0 850.3 L368.0 849.8 L371.0 849.2 L374.0 848.7 L377.0 848.1 L380.0 847.5 L383.0 846.9 L386.0 846.3 L389.0 845.7 L392.0 845.1 L395.0 844.5 L398.0 843.8 L401.0 843.2 L404.0 842.5 L407.0 841.8 L410.0 841.1 L413.0 840.4 L416.0 839.7 L419.0 839.0 L422.0 838.2 L425.0 837.5 L428.0 836.7 L431.0 835.9 L434.0 835.1 L437.0 834.2 L440.0 833.4 L443.0 832.5 L446.0 831.6 L449.0 830.7 L452.0 829.7 L455.0 828.8 L458.0 827.8 L461.0 826.8 L464.0 825.8 L467.0 824.7 L470.0 823.6 L473.0 822.5 L476.0 821.4 L479.0 820.2 L482.0 819.0 L485.0 817.8 L488.0 816.5 L491.0 815.2 L494.0 813.9 L497.0 812.5 L500.0 811.1 L503.0 809.6 L506.0 808.1 L509.0 806.5 L512.0 804.9 L515.0 803.2 L518.0 801.5 L521.0 799.7 L524.0 797.9 L527.0 796.0 L530.0 794.0 L533.0 792.0 L536.0 789.8 L539.0 787.6 L542.0 785.4 L545.0 783.0 L548.0 780.5 L551.0 778.0 L554.0 775.3 L557.0 772.6 L560.0 769.7 L563.0 766.7 L566.0 763.6 L569.0 760.4 L572.0 757.0 L575.0 753.5 L578.0 749.9 L581.0 746.1 L584.0 742.1 L587.0 738.0 L590.0 733.7 L593.0 729.3 L596.0 724.6 L599.0 719.8 L602.0 714.8 L605.0 709.6 L608.0 704.2 L611.0 698.5 L614.0 692.6 L617.0 686.6 L620.0 680.2 L623.0 673.7 L626.0 666.8 L629.0 659.8 L632.0 652.5 L635.0 644.9 L638.0 637.0 L641.0 628.9 L644.0 620.5 L647.0 611.8 L650.0 602.8 L653.0 593.6 L656.0 584.0 L659.0 574.2 L662.0 564.1 L665.0 553.7 L668.0 543.0 L671.0 532.0 L674.0 520.8 L677.0 509.2 L680.0 497.4 L683.0 485.4 L686.0 473.1 L689.0 460.6 L692.0 447.9 L695.0 435.0 L698.0 421.9 L701.0 408.7 L704.0 395.4 L707.0 382.0 L710.0 368.6 L713.0 355.1 L716.0 341.7 L719.0 328.3 L722.0 315.1 L725.0 302.1 L728.0 289.4 L731.0 277.0 L734.0 264.9 L737.0 253.4 L740.0 242.3 L743.0 231.8 L746.0 222.0 L749.0 212.9 L752.0 204.7 L755.0 197.3 L758.0 190.8 L761.0 185.3 L764.0 180.8 L767.0 177.4 L770.0 175.0 L773.0 173.8 L776.0 173.6 L779.0 174.3 L782.0 176.1 L785.0 178.7 L788.0 182.3 L791.0 186.7 L794.0 192.0 L797.0 198.1 L800.0 204.9 L803.0 212.4 L806.0 220.6 L809.0 229.3 L812.0 238.5 L815.0 248.2 L818.0 258.4 L821.0 268.8 L824.0 279.6 L827.0 290.6 L830.0 301.8 L833.0 313.1 L836.0 324.5 L839.0 336.0 L842.0 347.5 L845.0 359.0 L848.0 370.4 L851.0 381.7 L854.0 393.0 L857.0 404.1 L860.0 415.0 L863.0 425.8 L866.0 436.3 L869.0 446.7 L872.0 456.8 L875.0 466.7 L878.0 476.4 L881.0 485.8 L884.0 494.9 L887.0 503.7 L890.0 512.3 L893.0 520.6 L896.0 528.6 L899.0 536.3 L902.0 543.7 L905.0 550.8 L908.0 557.6 L911.0 564.0 L914.0 570.2 L917.0 576.1 L920.0 581.7 L923.0 586.9 L926.0 591.9 L929.0 596.5 L932.0 600.8 L935.0 604.9 L938.0 608.6 L941.0 612.0 L944.0 615.0 L947.0 617.8 L950.0 620.3 L953.0 622.4 L956.0 624.3 L959.0 625.8 L962.0 627.1 L965.0 628.0 L968.0 628.6 L971.0 628.9 L974.0 628.9 L977.0 628.6 L980.0 628.0 L983.0 627.1 L986.0 625.9 L989.0 624.3 L992.0 622.5 L995.0 620.4 L998.0 617.9 L1001.0 615.2 L1004.0 612.2 L1007.0 608.9 L1010.0 605.2 L1013.0 601.3 L1016.0 597.1 L1019.0 592.7 L1022.0 587.9 L1025.0 582.9 L1028.0 577.6 L1031.0 572.0 L1034.0 566.2 L1037.0 560.2 L1040.0 553.9 L1043.0 547.4 L1046.0 540.7 L1049.0 533.7 L1052.0 526.6 L1055.0 519.3 L1058.0 511.9 L1061.0 504.3 L1064.0 496.7 L1067.0 488.9 L1070.0 481.1 L1073.0 473.2 L1076.0 465.4 L1079.0 457.5 L1082.0 449.8 L1085.0 442.1 L1088.0 434.6 L1091.0 427.3 L1094.0 420.2 L1097.0 413.4 L1100.0 406.9 L1103.0 400.8 L1106.0 395.1 L1109.0 389.9 L1112.0 385.2 L1115.0 381.0 L1118.0 377.4 L1121.0 374.5 L1124.0 372.2 L1127.0 370.7 L1130.0 369.8 L1133.0 369.7 L1136.0 370.2 L1139.0 371.5 L1142.0 373.5 L1145.0 376.2 L1148.0 379.5 L1151.0 383.5 L1154.0 388.1 L1157.0 393.2 L1160.0 398.9 L1163.0 405.2 L1166.0 411.8 L1169.0 418.9 L1172.0 426.4 L1175.0 434.2 L1178.0 442.3 L1181.0 450.6 L1184.0 459.1 L1187.0 467.8 L1190.0 476.6 L1193.0 485.5 L1196.0 494.5 L1199.0 503.5 L1202.0 512.5 L1205.0 521.5 L1208.0 530.4 L1211.0 539.3 L1214.0 548.1 L1217.0 556.8 L1220.0 565.3 L1223.0 573.8 L1226.0 582.0 L1229.0 590.2 L1232.0 598.2 L1235.0 606.0 L1238.0 613.6 L1241.0 621.0 L1244.0 628.3 L1247.0 635.4 L1250.0 642.3 L1253.0 648.9 L1256.0 655.4 L1259.0 661.7 L1262.0 667.8 L1265.0 673.7 L1268.0 679.5 L1271.0 685.0 L1274.0 690.3 L1277.0 695.4 L1280.0 700.4 L1283.0 705.2 L1286.0 709.8 L1289.0 714.2 L1292.0 718.4 L1295.0 722.5 L1298.0 726.5 L1301.0 730.2 L1304.0 733.8 L1307.0 737.3 L1310.0 740.6 L1313.0 743.8 L1316.0 746.8 L1319.0 749.8 L1322.0 752.6 L1325.0 755.2 L1328.0 757.8 L1331.0 760.2 L1334.0 762.6 L1337.0 764.8 L1340.0 766.9 L1343.0 769.0 L1346.0 771.0 L1349.0 772.8 L1352.0 774.6 L1355.0 776.3 L1358.0 778.0 L1361.0 779.6 L1364.0 781.1 L1367.0 782.5 L1370.0 783.9 L1373.0 785.2 L1376.0 786.5 L1379.0 787.7 L1382.0 788.9 L1385.0 790.0 L1388.0 791.1 L1391.0 792.2 L1394.0 793.2 L1397.0 794.1 L1400.0 795.1 L1403.0 796.0 L1406.0 796.8 L1409.0 797.7 L1412.0 798.5 L1415.0 799.3 L1418.0 800.0 L1421.0 800.8 L1424.0 801.5 L1427.0 802.2 L1430.0 802.8 L1433.0 803.5 L1436.0 804.1 L1439.0 804.7 L1442.0 805.3 L1445.0 805.9 L1448.0 806.5 L1451.0 807.0 L1454.0 807.6 L1457.0 808.1" fill="none" stroke="#1e1ee0" stroke-width="5.2" stroke-linejoin="round"/>
</g>
<line x1="800" y1="940.5" x2="892" y2="940.5" stroke="#a8a8a8" stroke-width="3.2"/>
<line x1="1024" y1="942" x2="1110" y2="942" stroke="#999" stroke-width="3.2"/>
<path d="M780.3 940.6 L805 933.5 L805 947.5 Z" fill="#111"/>
<path d="M1131 942 L1106 935 L1106 949 Z" fill="#111"/>
<rect x="155" y="28.5" width="406.5" height="335.5" fill="none" stroke="#8a8a8a" stroke-width="2.4"/>
<line x1="155" y1="59.6" x2="197" y2="59.6" stroke="#444" stroke-width="4.5"/>
<line x1="232" y1="59.6" x2="268.5" y2="59.6" stroke="#444" stroke-width="4.5"/>
<circle cx="213.5" cy="59.6" r="11.3" fill="#fff" stroke="#777" stroke-width="2.2"/>
<line x1="155" y1="121.3" x2="268.5" y2="121.3" stroke="#1e1ee0" stroke-width="5"/>
<line x1="155" y1="182.5" x2="268.5" y2="182.5" stroke="#dc3434" stroke-width="5"/>
<line x1="155" y1="244.1" x2="268.5" y2="244.1" stroke="#24887a" stroke-width="5"/>
<line x1="155" y1="321.1" x2="268.5" y2="321.1" stroke="#e83ce6" stroke-width="5"/>
<line x1="152" y1="24" x2="1458.7" y2="24" stroke="#5c5c5c" stroke-width="5.6"/>
<line x1="1457.2" y1="21.5" x2="1457.2" y2="1022.5" stroke="#1c1c1c" stroke-width="3.4"/>
<line x1="154.6" y1="21.5" x2="154.6" y2="1022.5" stroke="#575757" stroke-width="5.8"/>
<line x1="155.6" y1="24" x2="155.6" y2="364" stroke="#262626" stroke-width="4.2"/>
<line x1="152" y1="1020" x2="1458.7" y2="1020" stroke="#474747" stroke-width="5.8"/>
<line x1="299.1" y1="1006.5" x2="299.1" y2="1020" stroke="#222" stroke-width="3.6"/>
<line x1="443.9" y1="996.5" x2="443.9" y2="1020" stroke="#222" stroke-width="3.6"/>
<line x1="588.7" y1="1006.5" x2="588.7" y2="1020" stroke="#222" stroke-width="3.6"/>
<line x1="733.5" y1="996.5" x2="733.5" y2="1020" stroke="#222" stroke-width="3.6"/>
<line x1="878.3" y1="1006.5" x2="878.3" y2="1020" stroke="#222" stroke-width="3.6"/>
<line x1="1023.1" y1="996.5" x2="1023.1" y2="1020" stroke="#222" stroke-width="3.6"/>
<line x1="1167.9" y1="1006.5" x2="1167.9" y2="1020" stroke="#222" stroke-width="3.6"/>
<line x1="1312.7" y1="996.5" x2="1312.7" y2="1020" stroke="#222" stroke-width="3.6"/>
<text transform="translate(123.0 1072.8) scale(1 1.1)" font-size="38" fill="#222">178</text>
<text transform="translate(412.6 1072.8) scale(1 1.1)" font-size="38" fill="#222">180</text>
<text transform="translate(702.2 1072.8) scale(1 1.1)" font-size="38" fill="#222">182</text>
<text transform="translate(991.8 1072.8) scale(1 1.1)" font-size="38" fill="#222">184</text>
<text transform="translate(1281.4 1072.8) scale(1 1.1)" font-size="38" fill="#222">186</text>
<text transform="translate(280.9 77.7) scale(1 1.04)" font-size="48" fill="#222">raw intensity</text>
<text transform="translate(283.3 138.6) scale(1 1.04)" font-size="48" fill="#222">fitting line</text>
<text transform="translate(280.9 199.0) scale(1 1.04)" font-size="48" fill="#222">background</text>
<text transform="translate(282.6 260.6) scale(1 1.04)" font-size="48" fill="#222">Zr 3d</text>
<text transform="translate(392.0 280.5) scale(1 1.15)" font-size="29" fill="#222">5/2</text>
<text transform="translate(282.6 337.6) scale(1 1.04)" font-size="48" fill="#222">Zr 3d</text>
<text transform="translate(392.0 357.5) scale(1 1.15)" font-size="29" fill="#222">3/2</text>
<text transform="translate(697.7 129.1) scale(1 1.04)" font-size="47" fill="#222">182.31 eV</text>
<text transform="translate(1051.7 294.1) scale(1 1.04)" font-size="47" fill="#222">184.75 eV</text>
<text transform="translate(899.8 956.9) scale(1 1.04)" font-size="48" fill="#222">2.4eV</text>
<text transform="translate(1391.9 71.5) scale(1 1.04)" font-size="48" fill="#222">(c)</text>
<text transform="translate(590.1 1153.3) scale(1 1.02)" font-size="48.3" fill="#222">Binding Energy (eV)</text>
<text transform="translate(65 680.3) rotate(-90) scale(1.038 1)" font-size="48" fill="#222">Intensity (a.u.)</text>
</svg></div>
</body></html>
